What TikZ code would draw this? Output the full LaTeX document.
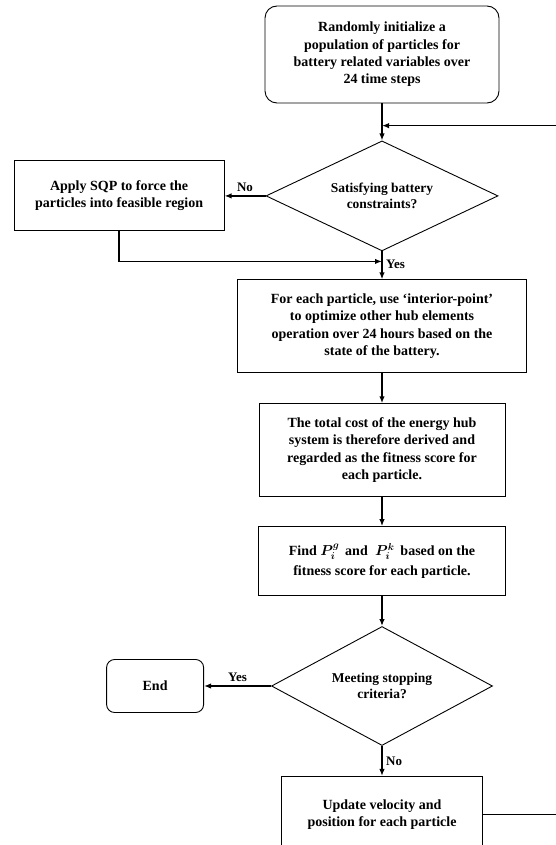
\documentclass[tikz,border=0pt]{standalone}
\usepackage{fontspec}
\setmainfont{Liberation Serif}
\usepackage{bm}
\usetikzlibrary{positioning}
\usetikzlibrary{shapes.geometric}
\usetikzlibrary{arrows.meta}
\usetikzlibrary{calc}

\tikzset{
 proc/.style={draw, line width=0.9pt, align=center, inner sep=2pt},
 startstop/.style={proc, rounded corners=12pt},
 decide/.style={draw, diamond, aspect=2.1, line width=0.9pt, align=center, inner sep=0pt, font=\bfseries\fontsize{13.5}{16.5}\selectfont},
 arr/.style={line width=1.6pt, -{Latex[length=7pt,width=5.5pt]}},
 lbl/.style={font=\bfseries\fontsize{13}{15}\selectfont}
}

\begin{document}
\begin{tikzpicture}[x=1pt, y=1pt, node distance=30pt, font=\bfseries\fontsize{14}{17.3}\selectfont]
\useasboundingbox (0,0) rectangle (556,-845);
\clip (0,0) rectangle (556,-845);
\node[startstop, minimum width=234pt, minimum height=97pt] (init) at (382,-54.5) {Randomly initialize a\\ population of particles for\\ battery related variables over\\ 24 time steps};
\node[decide, minimum width=232pt, minimum height=110pt, below=37pt of init] (sat) {Satisfying battery\\ constraints?};
\node[proc, minimum width=210pt, minimum height=70pt, left=41pt of sat] (sqp) {Apply SQP to force the\\ particles into feasible region};
\node[proc, minimum width=289pt, minimum height=93pt, below=28pt of sat] (interior) {For each particle, use `interior-point'\\ to optimize other hub elements\\ operation over 24 hours based on the\\ state of the battery.};
\node[proc, minimum width=246pt, minimum height=93pt, below=of interior] (cost) {The total cost of the energy hub\\ system is therefore derived and\\ regarded as the fitness score for\\ each particle.};
\node[proc, minimum width=247pt, minimum height=69pt, below=29pt of cost] (find) {Find $\bm{P_i^g}$\, and\; $\bm{P_i^k}$\, based on the\\[3pt] fitness score for each particle.};
\node[decide, minimum width=221pt, minimum height=119pt, below=30pt of find] (stop) {Meeting stopping\\ criteria?};
\node[startstop, rounded corners=8pt, minimum width=97pt, minimum height=53pt, left=67pt of stop] (end) {End};
\node[proc, minimum width=201pt, minimum height=76pt, below=30pt of stop] (update) {Update velocity and\\ position for each particle};

\coordinate (join) at ($(init.south)!0.6!(sat.north)$);
\coordinate (merge) at ($(sat.south)!0.36!(interior.north)$);

\draw[arr] (init) -- (sat);
\draw[arr] (sat) -- (sqp) node[lbl, midway, above] {No};
\draw[arr] (sqp.south) |- (merge);
\draw[arr] (sat) -- (interior) node[lbl, pos=0.45, right] {Yes};
\draw[arr] (interior) -- (cost);
\draw[arr] (cost) -- (find);
\draw[arr] (find) -- (stop);
\draw[arr] (stop) -- (end) node[lbl, midway, above] {Yes};
\draw[arr] (stop) -- (update) node[lbl, midway, right] {No};
\draw[arr] (update.east) -- ++(92,0) |- (join);
\end{tikzpicture}
\end{document}
